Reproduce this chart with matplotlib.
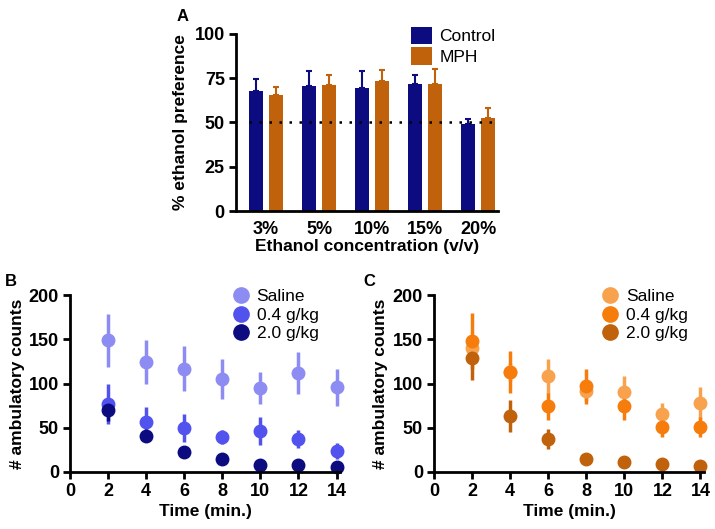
import numpy as np
import matplotlib.pyplot as plt
from matplotlib.lines import Line2D

plt.rcParams['font.family'] = ['Liberation Sans', 'DejaVu Sans']

# Panel A data
conc = ['3%', '5%', '10%', '15%', '20%']
ctrl = [67.5, 70.3, 69.4, 71.5, 49.1]
ctrl_err = [6.8, 8.5, 9.4, 5.2, 2.7]
mph = [65.4, 71.3, 73.3, 71.6, 52.7]
mph_err = [4.6, 5.7, 6.5, 8.4, 5.7]

# Panels B/C data
t = [2, 4, 6, 8, 10, 12, 14]
b_sal = [149, 124, 117, 105, 95, 112, 96]
b_sal_err = [30, 25, 25, 23, 18, 24, 21]
b_04 = [77, 57, 50, 39, 46, 37, 24]
b_04_err = [23, 16, 16, 8, 16, 10, 9]
b_20 = [70, 41, 22, 15, 8, 8, 6]
b_20_err = [12, 4, 2, 2, 1, 1, 1]

c_sal = [140, 113, 108, 92, 90, 66, 78]
c_sal_err = [8, 10, 20, 12, 18, 12, 18]
c_04 = [148, 113, 74, 97, 74, 51, 51]
c_04_err = [32, 24, 15, 20, 15, 12, 11]
c_20 = [129, 63, 37, 15, 11, 9, 7]
c_20_err = [25, 18, 11, 2, 2, 1, 1]

navy = '#0c0c80'
orange = '#c0620c'

fig = plt.figure(figsize=(7.15, 5.29), dpi=100)


def style(ax):
    for s in ['top', 'right']:
        ax.spines[s].set_visible(False)
    for s in ['left', 'bottom']:
        ax.spines[s].set_linewidth(2)
    ax.tick_params(width=2, length=5, labelsize=13, pad=3)
    for lab in ax.get_xticklabels() + ax.get_yticklabels():
        lab.set_fontweight('bold')


# ---- A ----
axA = fig.add_axes([0.330, 0.601, 0.367, 0.335])
x = np.arange(len(conc))
w = 0.27
axA.bar(x - 0.19, ctrl, w, color=navy, yerr=[np.zeros(5), ctrl_err],
        error_kw=dict(ecolor=navy, elinewidth=1.5, capsize=2, capthick=1.5), label='Control')
axA.bar(x + 0.19, mph, w, color=orange, yerr=[np.zeros(5), mph_err],
        error_kw=dict(ecolor=orange, elinewidth=1.5, capsize=2, capthick=1.5), label='MPH')
axA.axhline(50, color='black', ls=(0, (1, 3)), lw=1.8, xmin=0.05, xmax=1)
axA.set_xlim(-0.57, 4.38)
axA.set_ylim(0, 100)
axA.set_yticks([0, 25, 50, 75, 100])
axA.set_xticks(x)
axA.set_xticklabels(conc)
axA.set_ylabel('% ethanol preference', fontsize=12.5, fontweight='bold', labelpad=5)
axA.set_xlabel('Ethanol concentration (v/v)', fontsize=12.5, fontweight='bold', labelpad=1)
style(axA)
axA.tick_params(axis='x', length=0, pad=7)
axA.legend(loc='upper right', bbox_to_anchor=(1.015, 1.08), frameon=False, fontsize=12.5,
           handlelength=1.2, handleheight=1.2, borderaxespad=0, labelspacing=0.15,
           handletextpad=0.4)
fig.text(0.256, 0.968, 'A', fontsize=12, fontweight='bold', ha='center', va='center')


def timeplot(ax, series, colors, legx):
    handles = []
    for (vals, errs, lab), col in zip(series, colors):
        ax.errorbar(t, vals, yerr=errs, fmt='o', color=col, ms=9, elinewidth=2.5,
                    capsize=0, clip_on=False)
        handles.append(Line2D([], [], ls='none', marker='o', ms=11, color=col, label=lab))
    ax.set_xlim(0, 14.2)
    ax.set_ylim(0, 200)
    ax.set_xticks(range(0, 15, 2))
    ax.set_yticks([0, 50, 100, 150, 200])
    ax.set_xlabel('Time (min.)', fontsize=12.5, fontweight='bold', labelpad=3)
    ax.set_ylabel('# ambulatory counts', fontsize=12.5, fontweight='bold', labelpad=3)
    style(ax)
    ax.legend(handles=handles, loc='upper right', bbox_to_anchor=(legx, 1.075), frameon=False,
              fontsize=12.5, handletextpad=0.3, labelspacing=0.2, borderaxespad=0,
              handlelength=1.2)


# ---- B ----
axB = fig.add_axes([0.098, 0.108, 0.378, 0.334])
timeplot(axB, [(b_sal, b_sal_err, 'Saline'), (b_04, b_04_err, '0.4 g/kg'),
               (b_20, b_20_err, '2.0 g/kg')], ['#8c8cf2', '#5252ee', '#0c0c80'], 0.945)
fig.text(0.015, 0.468, 'B', fontsize=12, fontweight='bold', ha='center', va='center')

# ---- C ----
axC = fig.add_axes([0.607, 0.108, 0.378, 0.334])
timeplot(axC, [(c_sal, c_sal_err, 'Saline'), (c_04, c_04_err, '0.4 g/kg'),
               (c_20, c_20_err, '2.0 g/kg')], ['#f8a24e', '#f67d0c', '#c0620c'], 0.965)
fig.text(0.516, 0.468, 'C', fontsize=12, fontweight='bold', ha='center', va='center')

fig.savefig('out.png', dpi=100)
